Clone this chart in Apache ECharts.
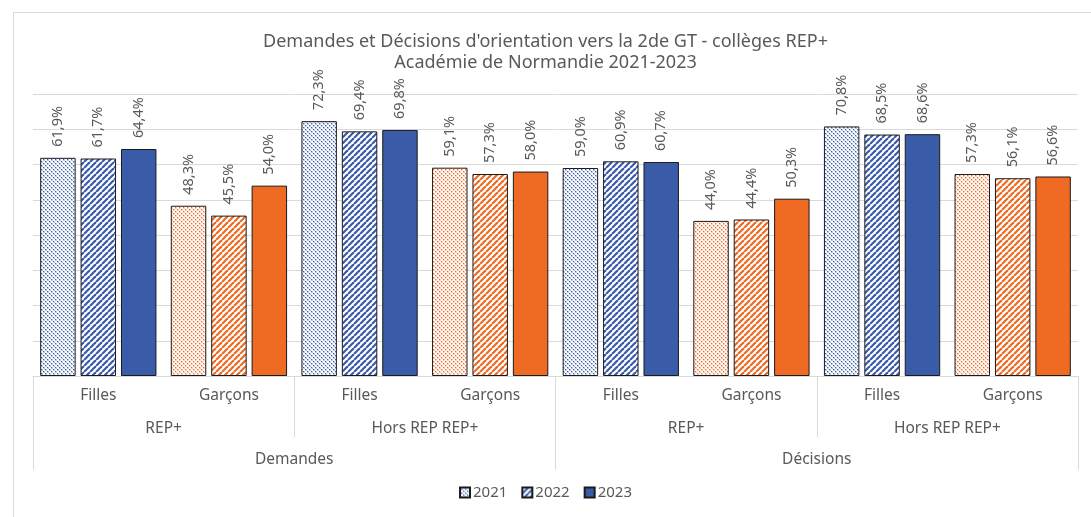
<!DOCTYPE html>
<html lang="fr">
<head>
<meta charset="UTF-8">
<title>Demandes et Décisions d'orientation vers la 2de GT</title>
<script src="https://cdn.jsdelivr.net/npm/echarts@6/dist/echarts.min.js"></script>
<style>
  html, body { margin: 0; padding: 0; background: #fff; }
  #chart { width: 1091px; height: 517px; }
</style>
</head>
<body>
<div id="chart"></div>
<script>
// données
var sexes = ['Filles', 'Garçons', 'Filles', 'Garçons', 'Filles', 'Garçons', 'Filles', 'Garçons'];
var secteurs = ['REP+', 'Hors REP REP+', 'REP+', 'Hors REP REP+'];
var etapes = ['Demandes', 'Décisions'];
var annees = ['2021', '2022', '2023'];
var v2021 = [61.9, 48.3, 72.3, 59.1, 59.0, 44.0, 70.8, 57.3];
var v2022 = [61.7, 45.5, 69.4, 57.3, 60.9, 44.4, 68.5, 56.1];
var v2023 = [64.4, 54.0, 69.8, 58.0, 60.7, 50.3, 68.6, 56.6];

var BLEU = '#3a5ca8';
var ORANGE = '#ef6b24';
var GRIS = '#595959';
var FONT = 'Noto Sans';

// motifs (pointillés, hachures)
function pointilles(col) {
  var c = document.createElement('canvas');
  c.width = 4; c.height = 4;
  var ctx = c.getContext('2d');
  ctx.fillStyle = '#fff';
  ctx.fillRect(0, 0, 4, 4);
  ctx.fillStyle = col;
  ctx.globalAlpha = 0.35;
  ctx.fillRect(1, 1, 2, 2);
  ctx.fillRect(3, 3, 2, 2);
  ctx.fillRect(0, 0, 1, 1);
  ctx.fillRect(0, 3, 1, 1);
  ctx.fillRect(3, 0, 1, 1);
  ctx.globalAlpha = 1;
  ctx.fillRect(1, 1, 1, 1);
  ctx.fillRect(3, 3, 1, 1);
  return { image: c, repeat: 'repeat' };
}
function hachures(col) {
  var s = 6;
  var c = document.createElement('canvas');
  c.width = s; c.height = s;
  var ctx = c.getContext('2d');
  ctx.fillStyle = '#fff';
  ctx.fillRect(0, 0, s, s);
  ctx.strokeStyle = col;
  ctx.lineWidth = 2.2;
  [[-s, 0], [0, 0], [s, 0]].forEach(function (o) {
    ctx.beginPath();
    ctx.moveTo(o[0], s);
    ctx.lineTo(o[0] + s, 0);
    ctx.stroke();
  });
  return { image: c, repeat: 'repeat' };
}

var styles = [
  [pointilles(BLEU), pointilles(ORANGE)],
  [hachures(BLEU), hachures(ORANGE)],
  [BLEU, ORANGE]
];

function serie(nom, valeurs, k) {
  return {
    name: nom,
    type: 'bar',
    xAxisIndex: 0,
    barCategoryGap: '11%',
    barGap: '14%',
    itemStyle: { color: styles[k][0], borderColor: '#1a1a1a', borderWidth: 1 },
    label: {
      show: true,
      position: 'top',
      rotate: 90,
      align: 'left',
      verticalAlign: 'middle',
      distance: 11,
      color: GRIS,
      fontFamily: FONT,
      fontSize: 14.5,
      formatter: function (p) { return p.value.toFixed(1).replace('.', ',') + '%'; }
    },
    data: valeurs.map(function (v, i) {
      return { value: v, itemStyle: { color: styles[k][i % 2] } };
    })
  };
}

var chart = echarts.init(document.getElementById('chart'), null, { renderer: 'canvas' });
chart.setOption({
  animation: false,
  backgroundColor: '#fff',
  textStyle: { fontFamily: FONT },
  title: {
    text: "Demandes et Décisions d'orientation vers la 2de GT - collèges REP+\nAcadémie de Normandie 2021-2023",
    left: 'center',
    top: 26,
    textStyle: { color: GRIS, fontSize: 18, fontWeight: 'normal', lineHeight: 21, fontFamily: FONT }
  },
  legend: {
    bottom: 12,
    left: 'center',
    itemWidth: 10,
    itemHeight: 10,
    itemGap: 14,
    icon: 'rect',
    textStyle: { color: GRIS, fontSize: 15, fontFamily: FONT, padding: [0, 0, 0, -2] },
    data: annees
  },
  graphic: [{
    type: 'rect',
    left: 11, top: 10,
    shape: { width: 1100, height: 520 },
    style: { fill: 'none', stroke: '#d9d9d9', lineWidth: 1 },
    silent: true
  }],
  grid: { left: 33, right: 13, top: 94, bottom: 141 },
  xAxis: [
    {
      type: 'category', position: 'bottom', data: sexes,
      axisLine: { lineStyle: { color: '#d9d9d9' } },
      axisTick: { show: false },
      axisLabel: { color: GRIS, fontSize: 15.5, fontFamily: FONT, margin: 12 }
    },
    {
      type: 'category', position: 'bottom', data: secteurs,
      axisLine: { show: false },
      axisTick: { show: true, length: 61, lineStyle: { color: '#d9d9d9' } },
      axisLabel: { color: GRIS, fontSize: 15.5, fontFamily: FONT, margin: 45 }
    },
    {
      type: 'category', position: 'bottom', data: etapes,
      axisLine: { show: false },
      axisTick: { show: true, length: 94, lineStyle: { color: '#d9d9d9' } },
      axisLabel: { color: GRIS, fontSize: 15.5, fontFamily: FONT, margin: 76 }
    }
  ],
  yAxis: {
    type: 'value', min: 0, max: 80, interval: 10,
    axisLabel: { show: false },
    axisLine: { show: false },
    axisTick: { show: false },
    splitLine: { lineStyle: { color: '#d9d9d9' } }
  },
  series: [
    serie(annees[0], v2021, 0),
    serie(annees[1], v2022, 1),
    serie(annees[2], v2023, 2)
  ]
});
</script>
</body>
</html>
